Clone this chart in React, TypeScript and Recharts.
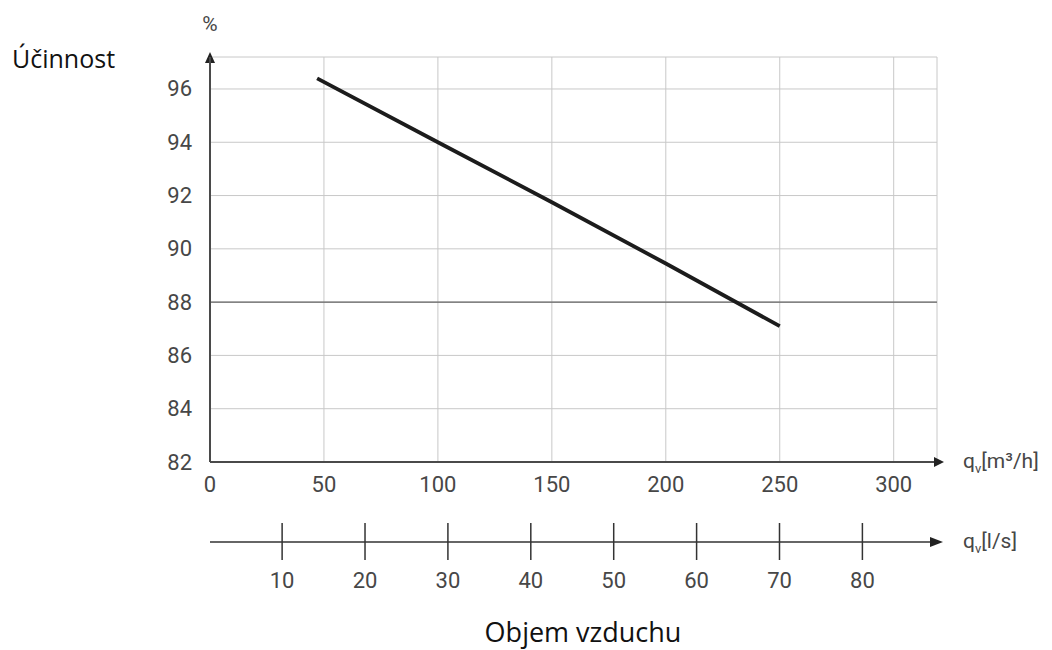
import { LineChart, Line, XAxis, YAxis, CartesianGrid, ReferenceLine, Label } from 'recharts'

// airflow in m3/h and heat recovery efficiency in %
const flowM3h = [47, 100, 150, 200, 250]
const efficiency = [96.4, 94.0, 91.75, 89.45, 87.1]

const m3hTicks = [0, 50, 100, 150, 200, 250, 300]
const lsTicks = [10, 20, 30, 40, 50, 60, 70, 80]
const effTicks = [82, 84, 86, 88, 90, 92, 94, 96]

const data = flowM3h.map((q, i) => ({ q, ls: q / 3.6, eff: efficiency[i] }))

const TICK_FONT = 'Roboto, "DejaVu Sans", sans-serif'
const TITLE_FONT = '"Open Sans", "Noto Sans", sans-serif'
const AXIS = '#4a4a4a'
const TEXT = '#474747'

function YTick({ x, y, payload }: any) {
  return (
    <text x={x - 18} y={y} textAnchor="end" dominantBaseline="central"
      fontFamily={TICK_FONT} fontSize={22} fill={TEXT}>
      {payload.value}
    </text>
  )
}

function M3Tick({ x, y, payload }: any) {
  return (
    <text x={x} y={y + 22} textAnchor="middle" dominantBaseline="central"
      fontFamily={TICK_FONT} fontSize={22} fill={TEXT}>
      {payload.value}
    </text>
  )
}

function LsTick({ x, y, payload }: any) {
  return (
    <g>
      <line x1={x} x2={x} y1={y - 19} y2={y + 18} stroke="#333" strokeWidth={1.5} />
      <text x={x} y={y + 38} textAnchor="middle" dominantBaseline="central"
        fontFamily={TICK_FONT} fontSize={22} fill={TEXT}>
        {payload.value}
      </text>
    </g>
  )
}

function unitText(x: number, y: number, unit: string) {
  return (
    <text x={x} y={y} fontFamily={TICK_FONT} fontSize={21} fill={TEXT}>
      q<tspan fontSize={13} dy={5}>v</tspan>
      <tspan dy={-5}>{unit}</tspan>
    </text>
  )
}

function YArrow(props: any) {
  const { x, y, width } = props.viewBox
  const ax = x + width
  return (
    <g>
      <polygon points={`${ax - 5},${y + 6} ${ax + 5},${y + 6} ${ax},${y - 5}`} fill="#222" />
      <line x1={ax} x2={ax} y1={y + 6} y2={y} stroke={AXIS} strokeWidth={2} />
      <text x={ax} y={24} textAnchor="middle" dominantBaseline="central"
        fontFamily={TICK_FONT} fontSize={21} fill={TEXT}>%</text>
      <text x={12} y={68} fontFamily={TITLE_FONT} fontSize={25} fill="#111">Účinnost</text>
    </g>
  )
}

function M3Arrow(props: any) {
  const { x, y, width } = props.viewBox
  const ex = x + width
  return (
    <g>
      <line x1={ex - 4} x2={ex} y1={y} y2={y} stroke={AXIS} strokeWidth={2} />
      <polygon points={`${ex - 3},${y - 5} ${ex - 3},${y + 5} ${ex + 7},${y}`} fill="#222" />
      {unitText(ex + 26, y + 6, '[m³/h]')}
    </g>
  )
}

function LsArrow(props: any) {
  const { x, y, width } = props.viewBox
  const ex = x + width
  return (
    <g>
      <polygon points={`${ex - 7},${y - 5} ${ex - 7},${y + 5} ${ex + 6},${y}`} fill="#222" />
      {unitText(ex + 26, y + 6, '[l/s]')}
      <text x={583} y={642} textAnchor="middle" fontFamily={TITLE_FONT} fontSize={27} fill="#111">
        Objem vzduchu
      </text>
    </g>
  )
}

export default function App() {
  return (
    <div style={{ position: 'absolute', left: 0, top: 0, width: 1052, height: 650, background: '#fff' }}>
      <LineChart width={1052} height={650} data={data}
        margin={{ top: 57, right: 115, left: 0, bottom: 0 }}>
        <CartesianGrid stroke="#c8c8c8" strokeWidth={1} />
        <XAxis dataKey="q" type="number" domain={[0, 319]} ticks={m3hTicks} allowDataOverflow
          height={80} tickLine={false} tickSize={0} tickMargin={0}
          axisLine={{ stroke: AXIS, strokeWidth: 2 }} tick={<M3Tick />}>
          <Label content={<M3Arrow />} />
        </XAxis>
        <XAxis xAxisId="ls" dataKey="ls" type="number" domain={[1.3, 89]} ticks={lsTicks} allowDataOverflow
          height={108} tickLine={false} tickSize={0} tickMargin={0}
          axisLine={{ stroke: '#333', strokeWidth: 1.5 }} tick={<LsTick />}>
          <Label content={<LsArrow />} />
        </XAxis>
        <YAxis type="number" domain={[82, 97.2]} ticks={effTicks} allowDataOverflow
          width={210} tickLine={false} tickSize={0} tickMargin={0}
          axisLine={{ stroke: AXIS, strokeWidth: 2 }} tick={<YTick />}>
          <Label content={<YArrow />} />
        </YAxis>
        <ReferenceLine y={88} stroke="#666" strokeWidth={1.3} />
        <Line dataKey="eff" type="linear" stroke="#1c1c1c" strokeWidth={3.8}
          dot={false} activeDot={false} isAnimationActive={false} />
      </LineChart>
    </div>
  )
}
